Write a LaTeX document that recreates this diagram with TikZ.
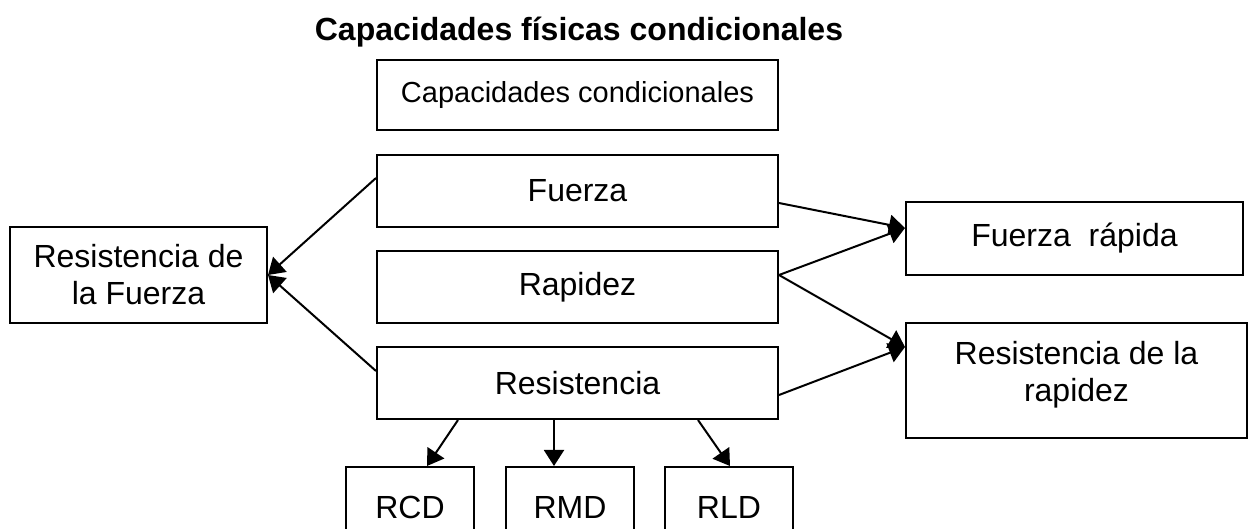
\documentclass[tikz,border=0pt]{standalone}
\usepackage{fontspec}
\setmainfont{Liberation Sans}
\usepackage{tikz}
\usetikzlibrary{arrows.meta}

\tikzset{
  cajon/.style={draw, line width=1pt, align=center, inner sep=0pt,
    font=\fontsize{16}{18.5}\selectfont},
  flecha/.style={line width=1pt, -{Triangle[length=8pt,width=10pt]}}
}

\begin{document}
\begin{tikzpicture}[x=0.5pt,y=-0.5pt]
    \useasboundingbox (0,0) rectangle (1249,529);

    % Title
    \node[font=\fontsize{16}{20}\selectfont\bfseries] (titulo) at (579,32) {Capacidades físicas condicionales};

    % Middle column
    \node[cajon, font=\fontsize{14.5}{18.5}\selectfont, minimum width=200.5pt, minimum height=35pt] (cc) at (577.5,95) {Capacidades condicionales};
    \node[cajon, minimum width=200.5pt, minimum height=36pt] (fuerza) at (577.5,191) {Fuerza};
    \node[cajon, minimum width=200.5pt, minimum height=36pt] (rapidez) at (577.5,287) {Rapidez};
    \node[cajon, minimum width=200.5pt, minimum height=36pt] (resist) at (577.5,383) {Resistencia};

    % Left and right boxes
    \node[cajon, minimum width=128.5pt, minimum height=48pt] (rdlf) at (138.5,275) {Resistencia de\\la Fuerza};
    \node[cajon, minimum width=168.5pt, minimum height=36.5pt] (frap) at (1074.5,238.5) {Fuerza~~rápida};
    \node[cajon, minimum width=170.5pt, minimum height=57.5pt] (rdlr) at (1076.5,380.5) {Resistencia de la\\rapidez\\[-9pt]\mbox{}};

    % Bottom boxes
    \node[cajon, minimum width=64pt, minimum height=40pt] (rcd) at (410,507) {RCD};
    \node[cajon, minimum width=64pt, minimum height=40pt] (rmd) at (570,507) {RMD};
    \node[cajon, minimum width=64pt, minimum height=40pt] (rld) at (729,507) {RLD};

    % Arrows to the left
    \draw[flecha] ([yshift=6.5pt]fuerza.west) -- (rdlf.east);
    \draw[flecha] ([yshift=6pt]resist.west) -- (rdlf.east);

    % Arrows to the right
    \draw[flecha] ([yshift=-6pt]fuerza.east) -- ([yshift=5.25pt]frap.west);
    \draw[flecha] ([yshift=6pt]rapidez.east) -- ([yshift=5.25pt]frap.west);
    \draw[flecha] ([yshift=6pt]rapidez.east) -- ([yshift=16.75pt]rdlr.west);
    \draw[flecha] ([yshift=-6pt]resist.east) -- ([yshift=16.75pt]rdlr.west);

    % Arrows down
    \draw[flecha] ([xshift=-59.75pt]resist.south) -- ([xshift=8.5pt]rcd.north);
    \draw[flecha] ([xshift=-11.75pt]resist.south) -- ([xshift=-8pt]rmd.north);
    \draw[flecha] ([xshift=60.25pt]resist.south) -- ([xshift=0.5pt]rld.north);
\end{tikzpicture}
\end{document}
